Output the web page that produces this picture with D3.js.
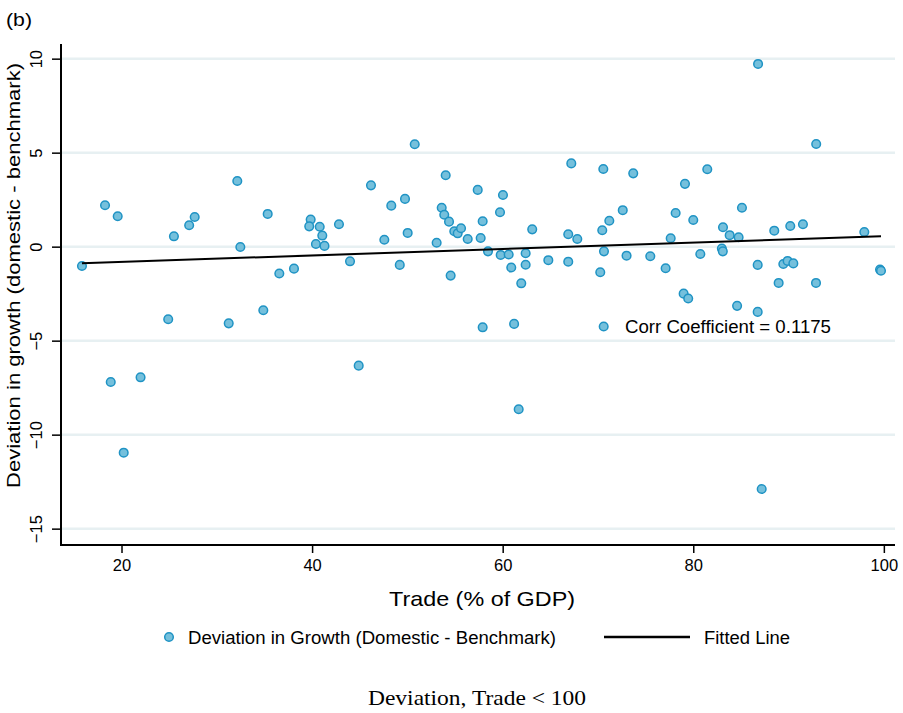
<!DOCTYPE html>
<html><head><meta charset="utf-8">
<script src="https://cdn.jsdelivr.net/npm/d3@7"></script>
<style>body{margin:0;background:#fff}svg{display:block}</style>
</head><body>
<svg id="c" width="903" height="713"></svg>
<script>
// Trade (% of GDP)
const tradeX = [18.27,19.6,32.15,35.34,27.68,27.1,25.5,32.47,15.85,36.56,38.1,43.98,39.85,39.7,40.8,41.07,40.4,41.3,42.82,24.9,31.25,34.88,
50.77,46.18,48.31,49.75,47.58,50.03,49.2,54.02,53.6,53.87,54.37,53.07,54.92,55.28,55.63,56.33,54.54,57.38,57.9,57.69,60.03,59.72,58.46,59.79,60.63,60.9,62.41,62.41,61.95,63.1,64.79,66.88,67.83,66.88,67.2,70.56,70.45,71.19,72.6,70.63,70.24,73.0,57.9,61.2,
92.9,73.7,81.47,79.13,78.15,80.0,85.11,83.12,83.82,84.76,77.63,88.5,90.18,91.51,97.95,75.49,77.1,80.74,83.0,83.1,86.76,89.45,89.9,90.5,99.6,99.7,88.96,92.88,78.99,79.47,84.6,86.76,
86.8,18.87,22.0,44.89,20.23,61.68,87.18];
// Deviation in growth (domestic - benchmark)
const deviationY = [2.20,1.62,3.49,1.74,1.58,1.14,0.55,-0.02,-1.03,-1.43,-1.17,-0.78,1.44,1.08,1.06,0.59,0.14,0.04,1.19,-3.86,-4.08,-3.38,
5.45,3.26,2.18,2.54,0.37,0.73,-0.97,3.80,2.07,1.70,1.33,0.21,0.82,0.71,0.98,0.41,-1.54,3.02,1.35,0.46,2.75,1.83,-0.25,-0.44,-0.42,-1.11,-0.35,-0.96,-1.95,0.92,-0.72,0.66,0.41,-0.80,4.43,4.13,0.87,1.38,1.94,-0.25,-1.36,-0.48,-4.29,-4.11,
5.46,3.90,4.12,3.34,1.79,1.42,2.07,1.03,0.61,0.50,0.45,0.85,1.10,1.19,0.78,-0.51,-1.15,-0.39,-0.10,-0.25,-0.97,-0.92,-0.76,-0.89,-1.22,-1.28,-1.93,-1.93,-2.50,-2.76,-3.15,-3.47,
9.72,-7.20,-6.95,-6.33,-10.96,-8.65,-12.89];
// Fitted line endpoints
const fitX = [15.85, 99.7];
const fitY = [-0.88, 0.55];
const xTicks = [20,40,60,80,100];
const yTicks = [-15,-10,-5,0,5,10];
const corrLabel = ["Corr Coefficient = 0.1175"];
const corrPos = [70.6, -4.25];

const svg = d3.select("#c");
const L=61, R=895, T=44, B=545;
const x = d3.scaleLinear().domain([13.65,101.17]).range([L,R]);
const y = d3.scaleLinear().domain([-15.87,10.78]).range([B,T]);
const sans = "'Liberation Sans', Arial, Helvetica, sans-serif";
const fillC = "#75c0dc", strokeC = "#1f93c4";

// gridlines
svg.append("g").selectAll("line").data(yTicks).join("line")
  .attr("x1",L+1).attr("x2",R).attr("y1",d=>y(d)).attr("y2",d=>y(d))
  .attr("stroke","#e7f0f2").attr("stroke-width",2.5);

// axes
const gx = svg.append("g").attr("transform",`translate(0,${B})`)
  .call(d3.axisBottom(x).tickValues(xTicks).tickSize(8).tickPadding(6).tickFormat(d3.format("d")));
const gy = svg.append("g").attr("transform",`translate(${L},0)`)
  .call(d3.axisLeft(y).tickValues(yTicks).tickSize(9).tickPadding(4).tickFormat(d=>d<0?"\u2212"+Math.abs(d):d));
[gx,gy].forEach(g=>{
  g.select(".domain").remove();
  g.selectAll(".tick line").attr("stroke","#000").attr("stroke-width",1.5);
  g.selectAll(".tick text").attr("font-family",sans).attr("fill","#000");
});
gx.selectAll(".tick text").attr("font-size",16.5).attr("dy","0.71em");
gy.selectAll(".tick text").attr("font-size",16.5).attr("transform","rotate(-90)").attr("x",0).attr("y",-19)
  .attr("dy","0").attr("text-anchor","middle");
svg.append("line").attr("x1",L).attr("x2",L).attr("y1",T).attr("y2",B+1).attr("stroke","#000").attr("stroke-width",2);
svg.append("line").attr("x1",L).attr("x2",R).attr("y1",B).attr("y2",B).attr("stroke","#000").attr("stroke-width",2);

// points
svg.append("g").selectAll("circle").data(tradeX.map((v,i)=>[v,deviationY[i]])).join("circle")
  .attr("cx",d=>x(d[0])).attr("cy",d=>y(d[1])).attr("r",4.3)
  .attr("fill",fillC).attr("stroke",strokeC).attr("stroke-width",1.5);

// fitted line
svg.append("path").datum(fitX.map((v,i)=>[v,fitY[i]]))
  .attr("d",d3.line().x(d=>x(d[0])).y(d=>y(d[1])))
  .attr("stroke","#000").attr("stroke-width",2).attr("fill","none");

// corr annotation
svg.append("circle").attr("cx",x(corrPos[0])).attr("cy",y(corrPos[1])).attr("r",4.3)
  .attr("fill",fillC).attr("stroke",strokeC).attr("stroke-width",1.5);
svg.append("text").attr("x",625).attr("y",y(corrPos[1])+6.5)
  .attr("font-family",sans).attr("font-size",17.5).attr("textLength",206).attr("lengthAdjust","spacingAndGlyphs")
  .text(corrLabel[0]);

// titles
svg.append("text").attr("x",6).attr("y",26).attr("font-family",sans).attr("font-size",18)
  .attr("textLength",26).attr("lengthAdjust","spacingAndGlyphs").text("(b)");
svg.append("text").attr("x",389).attr("y",606)
  .attr("font-family",sans).attr("font-size",21).attr("textLength",186).attr("lengthAdjust","spacingAndGlyphs")
  .text("Trade (% of GDP)");
svg.append("text").attr("transform","translate(19.5,275.5) rotate(-90)").attr("text-anchor","middle")
  .attr("font-family",sans).attr("font-size",19).attr("textLength",425).attr("lengthAdjust","spacingAndGlyphs")
  .text("Deviation in growth (domestic - benchmark)");

// legend
const lg = svg.append("g");
lg.append("circle").attr("cx",169).attr("cy",637).attr("r",4.3).attr("fill",fillC).attr("stroke",strokeC).attr("stroke-width",1.5);
lg.append("text").attr("x",188).attr("y",643.5).attr("font-family",sans).attr("font-size",17.5)
  .attr("textLength",368).attr("lengthAdjust","spacingAndGlyphs")
  .text("Deviation in Growth (Domestic - Benchmark)");
lg.append("line").attr("x1",604).attr("x2",690).attr("y1",637).attr("y2",637).attr("stroke","#000").attr("stroke-width",2.5);
lg.append("text").attr("x",704).attr("y",643.5).attr("font-family",sans).attr("font-size",17.5)
  .attr("textLength",86).attr("lengthAdjust","spacingAndGlyphs").text("Fitted Line");

// caption
svg.append("text").attr("x",368).attr("y",705)
  .attr("font-family","'Liberation Serif', 'DejaVu Serif', serif").attr("font-size",21)
  .attr("textLength",218).attr("lengthAdjust","spacingAndGlyphs").text("Deviation, Trade < 100");
</script>
</body></html>
